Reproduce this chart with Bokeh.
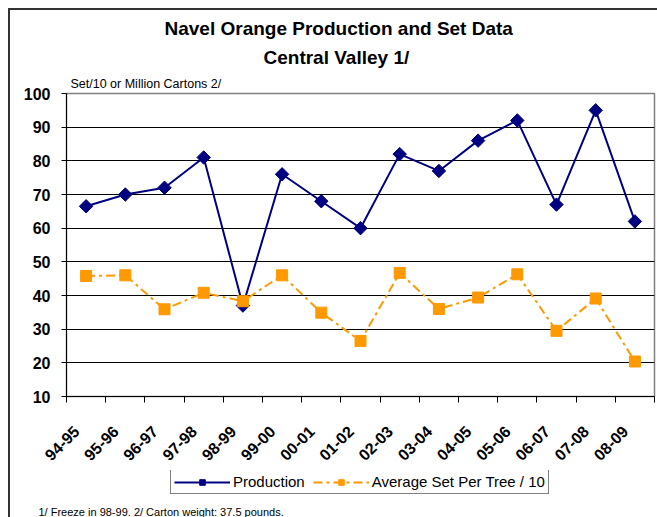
import math
from bokeh.plotting import figure
from bokeh.layouts import column
from bokeh.models import FixedTicker, Legend, LegendItem, Range1d, Title
from bokeh.embed import file_html
from bokeh.resources import INLINE

seasons = ["94-95", "95-96", "96-97", "97-98", "98-99", "99-00", "00-01", "01-02",
           "02-03", "03-04", "04-05", "05-06", "06-07", "07-08", "08-09"]
production = [66.5, 70, 72, 81, 37, 76, 68, 60, 82, 77, 86, 92, 67, 95, 62]
avg_set = [45.8, 46, 35.9, 40.8, 38.3, 46, 34.9, 26.5, 46.7, 36, 39.4, 46.3, 29.5, 39.1, 20.4]
y_ticks = [10, 20, 30, 40, 50, 60, 70, 80, 90, 100]

FONT = "Liberation Sans"
NAVY = "#000080"
ORANGE = "#FF9900"
PROD_STYLE = dict(line_color=NAVY, line_width=2)
PROD_MARK = dict(marker="square", angle=math.pi / 4, size=9.5, fill_color=NAVY, line_color=NAVY)
SET_STYLE = dict(line_color=ORANGE, line_width=2, line_dash="9 4 3 4")
SET_MARK = dict(marker="square", size=11, fill_color=ORANGE, line_color=ORANGE)

xs = [i + 0.5 for i in range(len(seasons))]
label_pos = [i + 0.25 for i in range(len(seasons))]
bounds = list(range(len(seasons) + 1))

p = figure(frame_width=588, frame_height=303, output_backend="svg", toolbar_location=None,
           x_range=Range1d(0, len(seasons)), y_range=Range1d(10, 100),
           min_border_left=56, min_border_right=3, min_border_top=83, min_border_bottom=74)
p.background_fill_color = "white"
p.border_fill_color = "white"
p.outline_line_color = "#808080"
p.outline_line_width = 1.5

# y axis
p.yaxis.ticker = FixedTicker(ticks=y_ticks, minor_ticks=[])
p.yaxis.major_tick_in = 0
p.yaxis.major_tick_out = 5
p.yaxis.major_tick_line_color = "black"
p.yaxis.axis_line_color = "black"
p.yaxis.major_label_text_font = FONT
p.yaxis.major_label_text_font_style = "bold"
p.yaxis.major_label_text_font_size = "16px"
p.yaxis.major_label_text_color = "black"
p.yaxis.major_label_standoff = 11

# x axis
p.xaxis.ticker = FixedTicker(ticks=label_pos, minor_ticks=bounds)
p.xaxis.major_label_overrides = {x: s for x, s in zip(label_pos, seasons)}
p.xaxis.major_tick_in = 0
p.xaxis.major_tick_out = 0
p.xaxis.minor_tick_in = 0
p.xaxis.minor_tick_out = 6
p.xaxis.minor_tick_line_color = "black"
p.xaxis.axis_line_color = "black"
p.xaxis.major_label_orientation = math.pi / 4
p.xaxis.major_label_text_font = FONT
p.xaxis.major_label_text_font_style = "bold"
p.xaxis.major_label_text_font_size = "16px"
p.xaxis.major_label_text_color = "black"
p.xaxis.major_label_standoff = 26

p.xgrid.visible = False
p.ygrid.ticker = FixedTicker(ticks=y_ticks[1:-1], minor_ticks=[])
p.ygrid.grid_line_color = "black"
p.ygrid.grid_line_width = 1

p.line(xs, production, **PROD_STYLE)
p.scatter(xs, production, **PROD_MARK)
p.line(xs, avg_set, **SET_STYLE)
p.scatter(xs, avg_set, **SET_MARK)

p.add_layout(Title(text="Set/10 or Million Cartons 2/", align="left", offset=4,
                   text_font=FONT, text_font_size="12.5px", text_font_style="normal",
                   text_color="black", standoff=6), "above")
p.add_layout(Title(text="Central Valley 1/", align="left", offset=197,
                   text_font=FONT, text_font_size="19px", text_font_style="bold",
                   text_color="black", standoff=8), "above")
p.add_layout(Title(text="Navel Orange Production and Set Data", align="left", offset=98,
                   text_font=FONT, text_font_size="19px", text_font_style="bold",
                   text_color="black", standoff=3), "above")

# Legend + footnote strip (same series, drawn outside its view so only the legend shows)
q = figure(frame_width=588, height=47, output_backend="svg", toolbar_location=None,
           x_axis_type=None, y_axis_type=None,
           min_border_left=56, min_border_right=3, min_border_top=0, min_border_bottom=0,
           x_range=Range1d(0, 1), y_range=Range1d(0, 1))
q.outline_line_color = None
q.background_fill_color = "white"
q.border_fill_color = "white"
ql1 = q.line(xs, production, **PROD_STYLE)
qs1 = q.scatter(xs, production, **PROD_MARK)
ql2 = q.line(xs, avg_set, **SET_STYLE)
qs2 = q.scatter(xs, avg_set, **SET_MARK)

legend = Legend(items=[LegendItem(label="Production", renderers=[ql1, qs1]),
                       LegendItem(label="Average Set Per Tree / 10", renderers=[ql2, qs2])],
                orientation="horizontal", location=(104, 9))
legend.border_line_color = "black"
legend.border_line_width = 1
legend.background_fill_color = "white"
legend.background_fill_alpha = 1
legend.label_text_font = FONT
legend.label_text_font_size = "15px"
legend.label_text_color = "black"
legend.glyph_width = 56
legend.glyph_height = 14
legend.label_standoff = 3
legend.spacing = 8
legend.padding = 3
legend.margin = 0
q.add_layout(legend, "center")

q.add_layout(Title(text="1/ Freeze in 98-99.   2/ Carton weight: 37.5 pounds.",
                   align="left", offset=-28, text_font=FONT, text_font_size="11px",
                   text_font_style="normal", text_color="black", standoff=0), "below")

layout = column(p, q, spacing=0,
                styles={"margin-left": "8px", "margin-top": "8px",
                        "border-left": "2px solid #333333", "border-top": "2px solid #333333"})

open("out.html", "w").write(file_html(layout, INLINE))
